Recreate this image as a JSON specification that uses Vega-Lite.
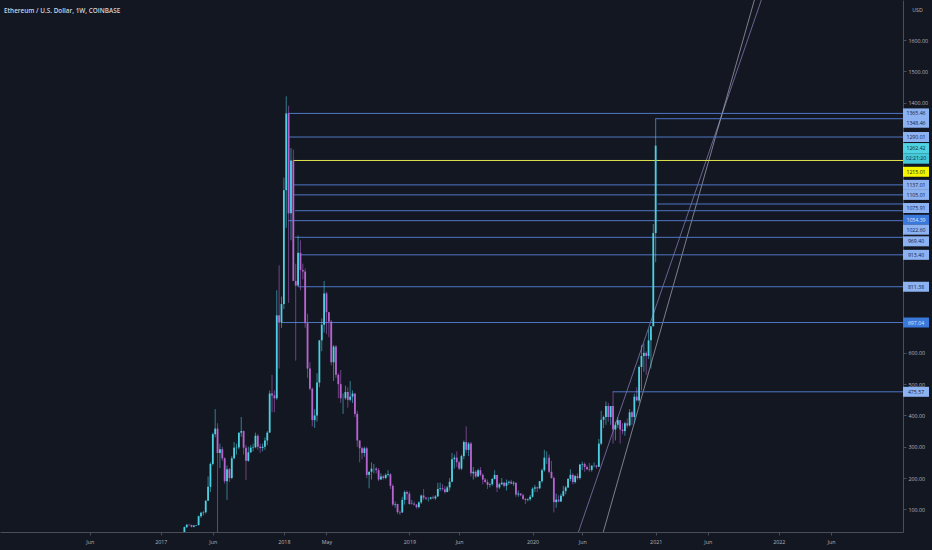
{
  "$schema": "https://vega.github.io/schema/vega-lite/v6.json",
  "width": 903,
  "height": 532,
  "autosize": {"type": "none"},
  "padding": {"left": 0, "top": 0, "right": 29, "bottom": 18},
  "background": "#131722",
  "title": {"text": "Ethereum / U.S. Dollar, 1W, COINBASE", "anchor": "start", "frame": "group", "offset": -14, "dx": 4, "fontSize": 6.4, "fontWeight": 600, "color": "#d1d4dc", "font": "Open Sans"},
  "config": {
    "view": {"stroke": null},
    "font": "Open Sans",
    "axis": {"grid": false, "labelColor": "#b2b5be", "labelFontSize": 5.3, "domainColor": "#4a4e59", "tickColor": "#4a4e59", "tickSize": 3, "titleColor": "#b2b5be"}
  },
  "datasets": {
    "candles": [
      {"t":"2017-03-06","o":19.6,"h":23.6,"l":18.9,"c":23.5},
      {"t":"2017-03-13","o":23.5,"h":45,"l":23.2,"c":43},
      {"t":"2017-03-20","o":43,"h":53.5,"l":40,"c":50.5},
      {"t":"2017-03-27","o":50.5,"h":53.5,"l":47,"c":50},
      {"t":"2017-04-03","o":50,"h":50.5,"l":42,"c":44},
      {"t":"2017-04-10","o":44,"h":50,"l":42,"c":48},
      {"t":"2017-04-17","o":48,"h":50,"l":46.5,"c":49.5},
      {"t":"2017-04-24","o":49.5,"h":80,"l":48.5,"c":78},
      {"t":"2017-05-01","o":78,"h":92,"l":73,"c":89},
      {"t":"2017-05-08","o":89,"h":94,"l":80,"c":90.5},
      {"t":"2017-05-15","o":90.5,"h":130,"l":86,"c":127},
      {"t":"2017-05-22","o":127,"h":205,"l":127,"c":172},
      {"t":"2017-05-29","o":172,"h":250,"l":155,"c":245},
      {"t":"2017-06-05","o":245,"h":345,"l":240,"c":340},
      {"t":"2017-06-12","o":340,"h":420,"l":330,"c":358},
      {"t":"2017-06-19","o":358,"h":375,"l":0.1,"c":280},
      {"t":"2017-06-26","o":280,"h":310,"l":232,"c":292},
      {"t":"2017-07-03","o":292,"h":300,"l":255,"c":263},
      {"t":"2017-07-10","o":263,"h":266,"l":182,"c":190},
      {"t":"2017-07-17","o":190,"h":240,"l":130,"c":228},
      {"t":"2017-07-24","o":228,"h":232,"l":187,"c":200},
      {"t":"2017-07-31","o":200,"h":270,"l":196,"c":263},
      {"t":"2017-08-07","o":263,"h":315,"l":260,"c":297},
      {"t":"2017-08-14","o":297,"h":310,"l":275,"c":298},
      {"t":"2017-08-21","o":298,"h":345,"l":292,"c":345},
      {"t":"2017-08-28","o":345,"h":395,"l":332,"c":350},
      {"t":"2017-09-04","o":350,"h":352,"l":275,"c":297},
      {"t":"2017-09-11","o":297,"h":305,"l":193,"c":255},
      {"t":"2017-09-18","o":255,"h":300,"l":252,"c":282},
      {"t":"2017-09-25","o":282,"h":305,"l":280,"c":297},
      {"t":"2017-10-02","o":297,"h":310,"l":285,"c":298},
      {"t":"2017-10-09","o":298,"h":345,"l":295,"c":335},
      {"t":"2017-10-16","o":335,"h":340,"l":290,"c":300},
      {"t":"2017-10-23","o":300,"h":310,"l":280,"c":296},
      {"t":"2017-10-30","o":296,"h":310,"l":285,"c":300},
      {"t":"2017-11-06","o":300,"h":330,"l":290,"c":320},
      {"t":"2017-11-13","o":320,"h":350,"l":305,"c":345},
      {"t":"2017-11-20","o":345,"h":480,"l":345,"c":470},
      {"t":"2017-11-27","o":470,"h":530,"l":410,"c":464},
      {"t":"2017-12-04","o":464,"h":480,"l":410,"c":455},
      {"t":"2017-12-11","o":455,"h":800,"l":450,"c":720},
      {"t":"2017-12-18","o":720,"h":880,"l":550,"c":697},
      {"t":"2017-12-25","o":697,"h":780,"l":680,"c":756},
      {"t":"2018-01-01","o":756,"h":1160,"l":740,"c":1120},
      {"t":"2018-01-08","o":1120,"h":1420,"l":1000,"c":1365.46},
      {"t":"2018-01-15","o":1365.46,"h":1390,"l":760,"c":1046},
      {"t":"2018-01-22","o":1046,"h":1255,"l":960,"c":1215},
      {"t":"2018-01-29","o":1215,"h":1250,"l":900,"c":830},
      {"t":"2018-02-05","o":830,"h":885,"l":575,"c":815},
      {"t":"2018-02-12","o":815,"h":975,"l":810,"c":920},
      {"t":"2018-02-19","o":920,"h":960,"l":800,"c":865},
      {"t":"2018-02-26","o":865,"h":885,"l":835,"c":860},
      {"t":"2018-03-05","o":860,"h":870,"l":680,"c":695},
      {"t":"2018-03-12","o":695,"h":725,"l":520,"c":550},
      {"t":"2018-03-19","o":550,"h":570,"l":480,"c":485},
      {"t":"2018-03-26","o":485,"h":490,"l":365,"c":385},
      {"t":"2018-04-02","o":385,"h":420,"l":360,"c":400},
      {"t":"2018-04-09","o":400,"h":535,"l":380,"c":505},
      {"t":"2018-04-16","o":505,"h":640,"l":490,"c":640},
      {"t":"2018-04-23","o":640,"h":710,"l":605,"c":690},
      {"t":"2018-04-30","o":690,"h":830,"l":665,"c":790},
      {"t":"2018-05-07","o":790,"h":795,"l":660,"c":730},
      {"t":"2018-05-14","o":730,"h":730,"l":650,"c":700},
      {"t":"2018-05-21","o":700,"h":705,"l":560,"c":570},
      {"t":"2018-05-28","o":570,"h":625,"l":510,"c":620},
      {"t":"2018-06-04","o":620,"h":625,"l":520,"c":530},
      {"t":"2018-06-11","o":530,"h":535,"l":455,"c":500},
      {"t":"2018-06-18","o":500,"h":545,"l":440,"c":455},
      {"t":"2018-06-25","o":455,"h":470,"l":405,"c":455},
      {"t":"2018-07-02","o":455,"h":495,"l":450,"c":475},
      {"t":"2018-07-09","o":475,"h":490,"l":425,"c":450},
      {"t":"2018-07-16","o":450,"h":510,"l":445,"c":460},
      {"t":"2018-07-23","o":460,"h":480,"l":440,"c":470},
      {"t":"2018-07-30","o":470,"h":470,"l":395,"c":405},
      {"t":"2018-08-06","o":405,"h":415,"l":300,"c":320},
      {"t":"2018-08-13","o":320,"h":320,"l":250,"c":295},
      {"t":"2018-08-20","o":295,"h":300,"l":260,"c":280},
      {"t":"2018-08-27","o":280,"h":300,"l":268,"c":295},
      {"t":"2018-09-03","o":295,"h":300,"l":200,"c":210},
      {"t":"2018-09-10","o":210,"h":220,"l":167,"c":220},
      {"t":"2018-09-17","o":220,"h":250,"l":195,"c":230},
      {"t":"2018-09-24","o":230,"h":245,"l":215,"c":230},
      {"t":"2018-10-01","o":230,"h":235,"l":215,"c":225},
      {"t":"2018-10-08","o":225,"h":232,"l":190,"c":195},
      {"t":"2018-10-15","o":195,"h":215,"l":195,"c":205},
      {"t":"2018-10-22","o":205,"h":210,"l":195,"c":200},
      {"t":"2018-10-29","o":200,"h":215,"l":196,"c":210},
      {"t":"2018-11-05","o":210,"h":225,"l":205,"c":212},
      {"t":"2018-11-12","o":212,"h":215,"l":165,"c":175},
      {"t":"2018-11-19","o":175,"h":180,"l":110,"c":115},
      {"t":"2018-11-26","o":115,"h":125,"l":105,"c":117},
      {"t":"2018-12-03","o":117,"h":118,"l":85,"c":91},
      {"t":"2018-12-10","o":91,"h":96,"l":82,"c":90},
      {"t":"2018-12-17","o":90,"h":140,"l":88,"c":130},
      {"t":"2018-12-24","o":130,"h":160,"l":115,"c":155},
      {"t":"2018-12-31","o":155,"h":160,"l":130,"c":150},
      {"t":"2019-01-07","o":150,"h":157,"l":115,"c":117},
      {"t":"2019-01-14","o":117,"h":130,"l":115,"c":118},
      {"t":"2019-01-21","o":118,"h":125,"l":112,"c":115},
      {"t":"2019-01-28","o":115,"h":117,"l":102,"c":107},
      {"t":"2019-02-04","o":107,"h":126,"l":103,"c":122},
      {"t":"2019-02-11","o":122,"h":147,"l":117,"c":144},
      {"t":"2019-02-18","o":144,"h":165,"l":130,"c":137},
      {"t":"2019-02-25","o":137,"h":140,"l":130,"c":134},
      {"t":"2019-03-04","o":134,"h":139,"l":125,"c":134},
      {"t":"2019-03-11","o":134,"h":140,"l":130,"c":138},
      {"t":"2019-03-18","o":138,"h":144,"l":133,"c":135},
      {"t":"2019-03-25","o":135,"h":145,"l":130,"c":141},
      {"t":"2019-04-01","o":141,"h":185,"l":140,"c":165},
      {"t":"2019-04-08","o":165,"h":185,"l":158,"c":167},
      {"t":"2019-04-15","o":167,"h":180,"l":160,"c":164},
      {"t":"2019-04-22","o":164,"h":174,"l":150,"c":155},
      {"t":"2019-04-29","o":155,"h":175,"l":155,"c":170},
      {"t":"2019-05-06","o":170,"h":200,"l":160,"c":188},
      {"t":"2019-05-13","o":188,"h":280,"l":186,"c":260},
      {"t":"2019-05-20","o":260,"h":275,"l":230,"c":265},
      {"t":"2019-05-27","o":265,"h":285,"l":235,"c":250},
      {"t":"2019-06-03","o":250,"h":255,"l":225,"c":230},
      {"t":"2019-06-10","o":230,"h":275,"l":225,"c":270},
      {"t":"2019-06-17","o":270,"h":320,"l":260,"c":315},
      {"t":"2019-06-24","o":315,"h":365,"l":280,"c":290},
      {"t":"2019-07-01","o":290,"h":315,"l":270,"c":310},
      {"t":"2019-07-08","o":310,"h":315,"l":205,"c":215},
      {"t":"2019-07-15","o":215,"h":235,"l":195,"c":220},
      {"t":"2019-07-22","o":220,"h":225,"l":200,"c":205},
      {"t":"2019-07-29","o":205,"h":230,"l":203,"c":225},
      {"t":"2019-08-05","o":225,"h":235,"l":205,"c":210},
      {"t":"2019-08-12","o":210,"h":215,"l":180,"c":195},
      {"t":"2019-08-19","o":195,"h":200,"l":185,"c":187},
      {"t":"2019-08-26","o":187,"h":195,"l":165,"c":178},
      {"t":"2019-09-02","o":178,"h":185,"l":170,"c":180},
      {"t":"2019-09-09","o":180,"h":200,"l":175,"c":197},
      {"t":"2019-09-16","o":197,"h":225,"l":195,"c":210},
      {"t":"2019-09-23","o":210,"h":210,"l":155,"c":170},
      {"t":"2019-09-30","o":170,"h":185,"l":165,"c":180},
      {"t":"2019-10-07","o":180,"h":200,"l":178,"c":185},
      {"t":"2019-10-14","o":185,"h":187,"l":170,"c":175},
      {"t":"2019-10-21","o":175,"h":195,"l":160,"c":185},
      {"t":"2019-10-28","o":185,"h":192,"l":178,"c":188},
      {"t":"2019-11-04","o":188,"h":194,"l":180,"c":182},
      {"t":"2019-11-11","o":182,"h":190,"l":175,"c":185},
      {"t":"2019-11-18","o":185,"h":185,"l":140,"c":147},
      {"t":"2019-11-25","o":147,"h":160,"l":140,"c":150},
      {"t":"2019-12-02","o":150,"h":152,"l":142,"c":145},
      {"t":"2019-12-09","o":145,"h":150,"l":130,"c":133},
      {"t":"2019-12-16","o":133,"h":136,"l":117,"c":130},
      {"t":"2019-12-23","o":130,"h":135,"l":125,"c":132},
      {"t":"2019-12-30","o":132,"h":146,"l":127,"c":140},
      {"t":"2020-01-06","o":140,"h":170,"l":137,"c":166},
      {"t":"2020-01-13","o":166,"h":178,"l":155,"c":170},
      {"t":"2020-01-20","o":170,"h":172,"l":155,"c":167},
      {"t":"2020-01-27","o":167,"h":190,"l":165,"c":190},
      {"t":"2020-02-03","o":190,"h":230,"l":185,"c":225},
      {"t":"2020-02-10","o":225,"h":290,"l":220,"c":265},
      {"t":"2020-02-17","o":265,"h":285,"l":245,"c":265},
      {"t":"2020-02-24","o":265,"h":275,"l":215,"c":220},
      {"t":"2020-03-02","o":220,"h":255,"l":198,"c":200},
      {"t":"2020-03-09","o":200,"h":205,"l":90,"c":123},
      {"t":"2020-03-16","o":123,"h":150,"l":105,"c":131},
      {"t":"2020-03-23","o":131,"h":145,"l":122,"c":125},
      {"t":"2020-03-30","o":125,"h":150,"l":123,"c":143},
      {"t":"2020-04-06","o":143,"h":175,"l":140,"c":158},
      {"t":"2020-04-13","o":158,"h":175,"l":148,"c":170},
      {"t":"2020-04-20","o":170,"h":200,"l":168,"c":197},
      {"t":"2020-04-27","o":197,"h":228,"l":190,"c":210},
      {"t":"2020-05-04","o":210,"h":215,"l":180,"c":187},
      {"t":"2020-05-11","o":187,"h":210,"l":182,"c":206},
      {"t":"2020-05-18","o":206,"h":215,"l":195,"c":200},
      {"t":"2020-05-25","o":200,"h":245,"l":195,"c":243},
      {"t":"2020-06-01","o":243,"h":252,"l":225,"c":245},
      {"t":"2020-06-08","o":245,"h":250,"l":220,"c":235},
      {"t":"2020-06-15","o":235,"h":240,"l":225,"c":228},
      {"t":"2020-06-22","o":228,"h":248,"l":220,"c":226},
      {"t":"2020-06-29","o":226,"h":235,"l":220,"c":240},
      {"t":"2020-07-06","o":240,"h":250,"l":235,"c":240},
      {"t":"2020-07-13","o":240,"h":242,"l":230,"c":236},
      {"t":"2020-07-20","o":236,"h":325,"l":235,"c":310},
      {"t":"2020-07-27","o":310,"h":415,"l":305,"c":386},
      {"t":"2020-08-03","o":386,"h":400,"l":360,"c":395},
      {"t":"2020-08-10","o":395,"h":445,"l":370,"c":430},
      {"t":"2020-08-17","o":430,"h":440,"l":380,"c":395},
      {"t":"2020-08-24","o":395,"h":430,"l":370,"c":430},
      {"t":"2020-08-31","o":430,"h":478,"l":310,"c":355},
      {"t":"2020-09-07","o":355,"h":380,"l":320,"c":370},
      {"t":"2020-09-14","o":370,"h":395,"l":360,"c":385},
      {"t":"2020-09-21","o":385,"h":385,"l":310,"c":355},
      {"t":"2020-09-28","o":355,"h":375,"l":340,"c":350},
      {"t":"2020-10-05","o":350,"h":380,"l":335,"c":375},
      {"t":"2020-10-12","o":375,"h":390,"l":360,"c":368},
      {"t":"2020-10-19","o":368,"h":420,"l":365,"c":410},
      {"t":"2020-10-26","o":410,"h":415,"l":370,"c":395},
      {"t":"2020-11-02","o":395,"h":470,"l":375,"c":460},
      {"t":"2020-11-09","o":460,"h":490,"l":445,"c":448},
      {"t":"2020-11-16","o":448,"h":560,"l":440,"c":555},
      {"t":"2020-11-23","o":555,"h":625,"l":480,"c":590},
      {"t":"2020-11-30","o":590,"h":630,"l":540,"c":600},
      {"t":"2020-12-07","o":600,"h":605,"l":530,"c":590},
      {"t":"2020-12-14","o":590,"h":675,"l":580,"c":640},
      {"t":"2020-12-21","o":640,"h":660,"l":550,"c":685},
      {"t":"2020-12-28","o":685,"h":1012,"l":685,"c":983},
      {"t":"2021-01-04","o":983,"h":1348.46,"l":890,"c":1262.42}
    ],
    "levels": [
      {"price":1365.46,"from":"2018-01-14","role":"level"},
      {"price":1348.46,"from":"2021-01-03","role":"level"},
      {"price":1290.01,"from":"2018-01-17","role":"level"},
      {"price":1215.01,"from":"2018-01-29","role":"alert"},
      {"price":1137.01,"from":"2018-01-31","role":"level"},
      {"price":1105.01,"from":"2018-01-31","role":"level"},
      {"price":1075.91,"from":"2021-01-10","role":"level"},
      {"price":1054.39,"from":"2018-02-03","role":"selected"},
      {"price":1022.60,"from":"2018-01-14","role":"level"},
      {"price":969.40,"from":"2018-02-03","role":"level"},
      {"price":913.40,"from":"2018-02-17","role":"level"},
      {"price":811.38,"from":"2018-02-13","role":"level"},
      {"price":697.04,"from":"2017-12-26","role":"selected"},
      {"price":475.57,"from":"2020-08-31","role":"level"}
    ],
    "quote": [
      {"price":1262.42,"timer":"02:21:20"}
    ],
    "trends": [
      {"line":"A","t":"2020-05-12","price":0},
      {"line":"A","t":"2022-01-06","price":1900},
      {"line":"B","t":"2020-07-26","price":0},
      {"line":"B","t":"2021-12-07","price":1900}
    ]
  },
  "encoding": {
    "y": {"type": "quantitative", "scale": {"domain": [27.4, 1728], "nice": false, "zero": false}}
  },
  "layer": [
    {
      "data": {"name": "trends"},
      "mark": {"type": "line", "clip": true, "strokeWidth": 0.8, "opacity": 0.75},
      "encoding": {
        "x": {"field": "t", "type": "temporal", "scale": {"type": "utc", "domain": ["2015-09-29T17:00:00Z", "2022-12-21T07:00:00Z"], "nice": false},
              "axis": {"title": null, "values": [
                {"year":2016,"month":6,"date":6,"utc":true},
                {"year":2017,"month":1,"date":2,"utc":true},
                {"year":2017,"month":6,"date":5,"utc":true},
                {"year":2018,"month":1,"date":1,"utc":true},
                {"year":2018,"month":5,"date":7,"utc":true},
                {"year":2019,"month":1,"date":7,"utc":true},
                {"year":2019,"month":6,"date":3,"utc":true},
                {"year":2020,"month":1,"date":6,"utc":true},
                {"year":2020,"month":6,"date":1,"utc":true},
                {"year":2021,"month":1,"date":4,"utc":true},
                {"year":2021,"month":6,"date":7,"utc":true},
                {"year":2022,"month":1,"date":3,"utc":true},
                {"year":2022,"month":6,"date":6,"utc":true}],
                "labelExpr": "utcFormat(datum.value, '%m') == '01' ? utcFormat(datum.value, '%Y') : utcFormat(datum.value, '%b')",
                "labelPadding": 4, "labelFlush": false, "labelOverlap": false}},
        "y": {"field": "price", "type": "quantitative",
              "axis": {"orient": "right", "title": "USD", "titleAngle": 0, "titleX": 14, "titleY": 9, "titleAlign": "center", "titleBaseline": "middle", "titleFontSize": 5.3, "titleFontWeight": "normal",
                       "values": [100, 200, 300, 400, 500, 600, 1400, 1500, 1600], "format": ".2f", "labelPadding": 2}},
        "detail": {"field": "line"},
        "color": {"condition": {"test": "datum.line == 'A'", "value": "#a496dc"}, "value": "#c4c6d4"}
      }
    },
    {
      "data": {"name": "levels"},
      "mark": {"type": "rule", "clip": true, "strokeWidth": 1},
      "encoding": {
        "x": {"field": "from", "type": "temporal"},
        "x2": {"value": "width"},
        "y": {"field": "price", "type": "quantitative"},
        "color": {"condition": {"test": "datum.role == 'alert'", "value": "#e2e24e"}, "value": "#4f76c4"}
      }
    },
    {
      "data": {"name": "candles"},
      "mark": {"type": "rule", "clip": true, "strokeWidth": 0.8, "opacity": 0.7},
      "encoding": {
        "x": {"field": "t", "type": "temporal"},
        "y": {"field": "l", "type": "quantitative"},
        "y2": {"field": "h"},
        "color": {"condition": {"test": "datum.c >= datum.o", "value": "#4dd0e1"}, "value": "#b864d0"}
      }
    },
    {
      "data": {"name": "candles"},
      "mark": {"type": "bar", "clip": true, "width": 1.8},
      "encoding": {
        "x": {"field": "t", "type": "temporal"},
        "y": {"field": "o", "type": "quantitative"},
        "y2": {"field": "c"},
        "color": {"condition": {"test": "datum.c >= datum.o", "value": "#4dd0e1"}, "value": "#b864d0"}
      }
    },
    {
      "data": {"name": "levels"},
      "transform": [{"filter": "datum.role != 'alert' && indexof([1348.46, 1075.91, 969.4, 1054.39, 1022.6], datum.price) < 0"}],
      "layer": [
        {
          "mark": {"type": "tick", "orient": "horizontal", "size": 26, "thickness": 10, "xOffset": 13, "opacity": 1},
          "encoding": {
            "x": {"value": "width"},
            "y": {"field": "price", "type": "quantitative"},
            "color": {"condition": {"test": "datum.role == 'selected'", "value": "#3a78dc"}, "value": "#8db2f2"}
          }
        },
        {
          "mark": {"type": "text", "xOffset": 13, "align": "center", "baseline": "middle", "fontSize": 5.2},
          "encoding": {
            "x": {"value": "width"},
            "y": {"field": "price", "type": "quantitative"},
            "text": {"field": "price", "type": "quantitative", "format": ".2f"},
            "color": {"condition": {"test": "datum.role == 'selected'", "value": "#dce8ff"}, "value": "#17233d"}
          }
        }
      ]
    },
    {
      "data": {"name": "levels"},
      "transform": [{"filter": "indexof([1348.46, 1075.91, 969.4], datum.price) >= 0"}],
      "layer": [
        {
          "mark": {"type": "tick", "orient": "horizontal", "size": 26, "thickness": 10, "xOffset": 13, "yOffset": 4, "opacity": 1, "color": "#8db2f2"},
          "encoding": {"x": {"value": "width"}, "y": {"field": "price", "type": "quantitative"}}
        },
        {
          "mark": {"type": "text", "xOffset": 13, "yOffset": 4, "align": "center", "baseline": "middle", "fontSize": 5.2, "color": "#17233d"},
          "encoding": {"x": {"value": "width"}, "y": {"field": "price", "type": "quantitative"}, "text": {"field": "price", "type": "quantitative", "format": ".2f"}}
        }
      ]
    },
    {
      "data": {"name": "levels"},
      "transform": [{"filter": "indexof([1054.39, 1022.6], datum.price) >= 0"}],
      "layer": [
        {
          "mark": {"type": "tick", "orient": "horizontal", "size": 26, "thickness": 10, "xOffset": 13, "yOffset": 9, "opacity": 1},
          "encoding": {
            "x": {"value": "width"},
            "y": {"field": "price", "type": "quantitative"},
            "color": {"condition": {"test": "datum.role == 'selected'", "value": "#3a78dc"}, "value": "#8db2f2"}
          }
        },
        {
          "mark": {"type": "text", "xOffset": 13, "yOffset": 9, "align": "center", "baseline": "middle", "fontSize": 5.2},
          "encoding": {
            "x": {"value": "width"},
            "y": {"field": "price", "type": "quantitative"},
            "text": {"field": "price", "type": "quantitative", "format": ".2f"},
            "color": {"condition": {"test": "datum.role == 'selected'", "value": "#dce8ff"}, "value": "#17233d"}
          }
        }
      ]
    },
    {
      "data": {"name": "levels"},
      "transform": [{"filter": "datum.role == 'alert'"}],
      "layer": [
        {
          "mark": {"type": "tick", "orient": "horizontal", "size": 26, "thickness": 10, "xOffset": 13, "yOffset": 11.3, "color": "#f5f500", "opacity": 1},
          "encoding": {"x": {"value": "width"}, "y": {"field": "price", "type": "quantitative"}}
        },
        {
          "mark": {"type": "text", "xOffset": 13, "yOffset": 11.3, "align": "center", "baseline": "middle", "fontSize": 5.2, "color": "#202020"},
          "encoding": {"x": {"value": "width"}, "y": {"field": "price", "type": "quantitative"}, "text": {"field": "price", "type": "quantitative", "format": ".2f"}}
        }
      ]
    },
    {
      "data": {"name": "quote"},
      "layer": [
        {
          "mark": {"type": "tick", "orient": "horizontal", "size": 26, "thickness": 10, "xOffset": 13, "yOffset": 2.4, "color": "#4fd2e2", "opacity": 1},
          "encoding": {"x": {"value": "width"}, "y": {"field": "price", "type": "quantitative"}}
        },
        {
          "mark": {"type": "tick", "orient": "horizontal", "size": 26, "thickness": 10.5, "xOffset": 13, "yOffset": 12.8, "color": "#45c8d8", "opacity": 1},
          "encoding": {"x": {"value": "width"}, "y": {"field": "price", "type": "quantitative"}}
        },
        {
          "mark": {"type": "text", "xOffset": 13, "yOffset": 2.4, "align": "center", "baseline": "middle", "fontSize": 5.2, "color": "#0e2a30"},
          "encoding": {"x": {"value": "width"}, "y": {"field": "price", "type": "quantitative"}, "text": {"field": "price", "type": "quantitative", "format": ".2f"}}
        },
        {
          "mark": {"type": "text", "xOffset": 13, "yOffset": 12.8, "align": "center", "baseline": "middle", "fontSize": 5.2, "color": "#0e2a30"},
          "encoding": {"x": {"value": "width"}, "y": {"field": "price", "type": "quantitative"}, "text": {"field": "timer"}}
        }
      ]
    }
  ]
}
